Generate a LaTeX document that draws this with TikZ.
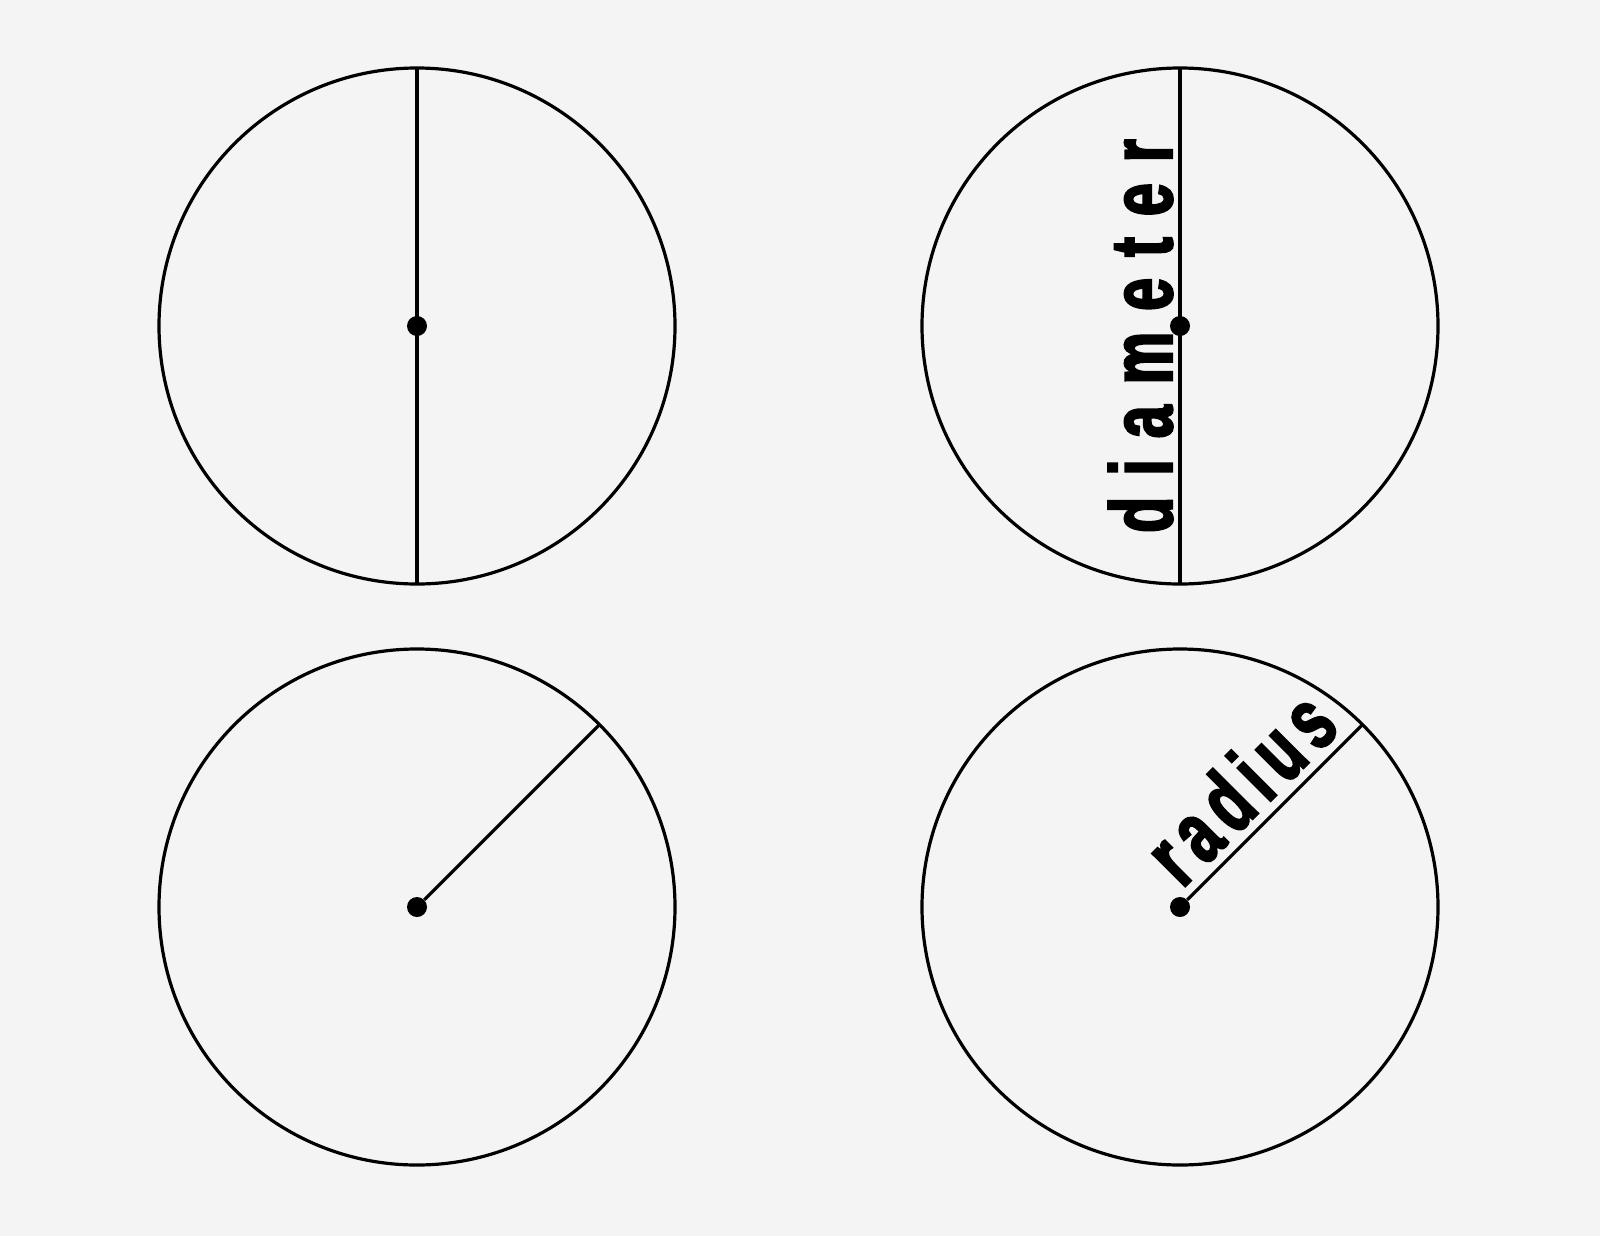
\documentclass[tikz,border=0pt]{standalone}
\usepackage{fontspec}
\usepackage{tikz}
\newfontfamily\diamfont[FakeStretch=0.67,FakeBold=2.5,LetterSpace=24]{Liberation Sans}
\newfontfamily\radfont[FakeStretch=0.67,FakeBold=2.5,LetterSpace=11]{Liberation Sans}
\definecolor{paper}{RGB}{244,244,244}

\begin{document}
\begin{tikzpicture}[x=0.75pt,y=0.75pt,yscale=-1,xscale=1,
  rim/.style={line width=2.4pt},
  dot/.style={circle,fill=black,inner sep=0pt,minimum size=15pt},
  word/.style={anchor=base,inner sep=0pt,font=\bfseries\fontsize{66}{66}\selectfont}]
\useasboundingbox (0,0) rectangle (1600,1236);
\fill [paper] (0,0) rectangle (1600,1236);

%Shape: Circle [top left]
\draw [rim] (417,326) circle (258);
%Straight Lines [diameter]
\coordinate (t1) at (417,68);
\coordinate (b1) at (417,584);
\draw [rim] (t1) -- (b1);
\node [dot] (c1) at (417,326) {};

%Shape: Circle [top right]
\draw [rim] (1180,326) circle (258);
%Straight Lines [diameter]
\coordinate (t2) at (1180,68);
\coordinate (b2) at (1180,584);
\draw [rim] (t2) -- (b2);
\node [dot] (c2) at (1180,326) {};

%Shape: Circle [bottom left]
\draw [rim] (417,907) circle (258);
%Straight Lines [radius]
\node [dot] (c3) at (417,907) {};
\coordinate (e3) at (599.4,724.6);
\draw [rim] (c3) -- (e3);

%Shape: Circle [bottom right]
\draw [rim] (1180,907) circle (258);
%Straight Lines [radius]
\node [dot] (c4) at (1180,907) {};
\coordinate (e4) at (1362.4,724.6);
\draw [rim] (c4) -- (e4);

% Text Node
\node [word,rotate=90] (dlabel) at (1172,336) {\diamfont diameter};
% Text Node
\node [word,rotate=45] (rlabel) at (1262,809.5) {\radfont radius};

\end{tikzpicture}
\end{document}
